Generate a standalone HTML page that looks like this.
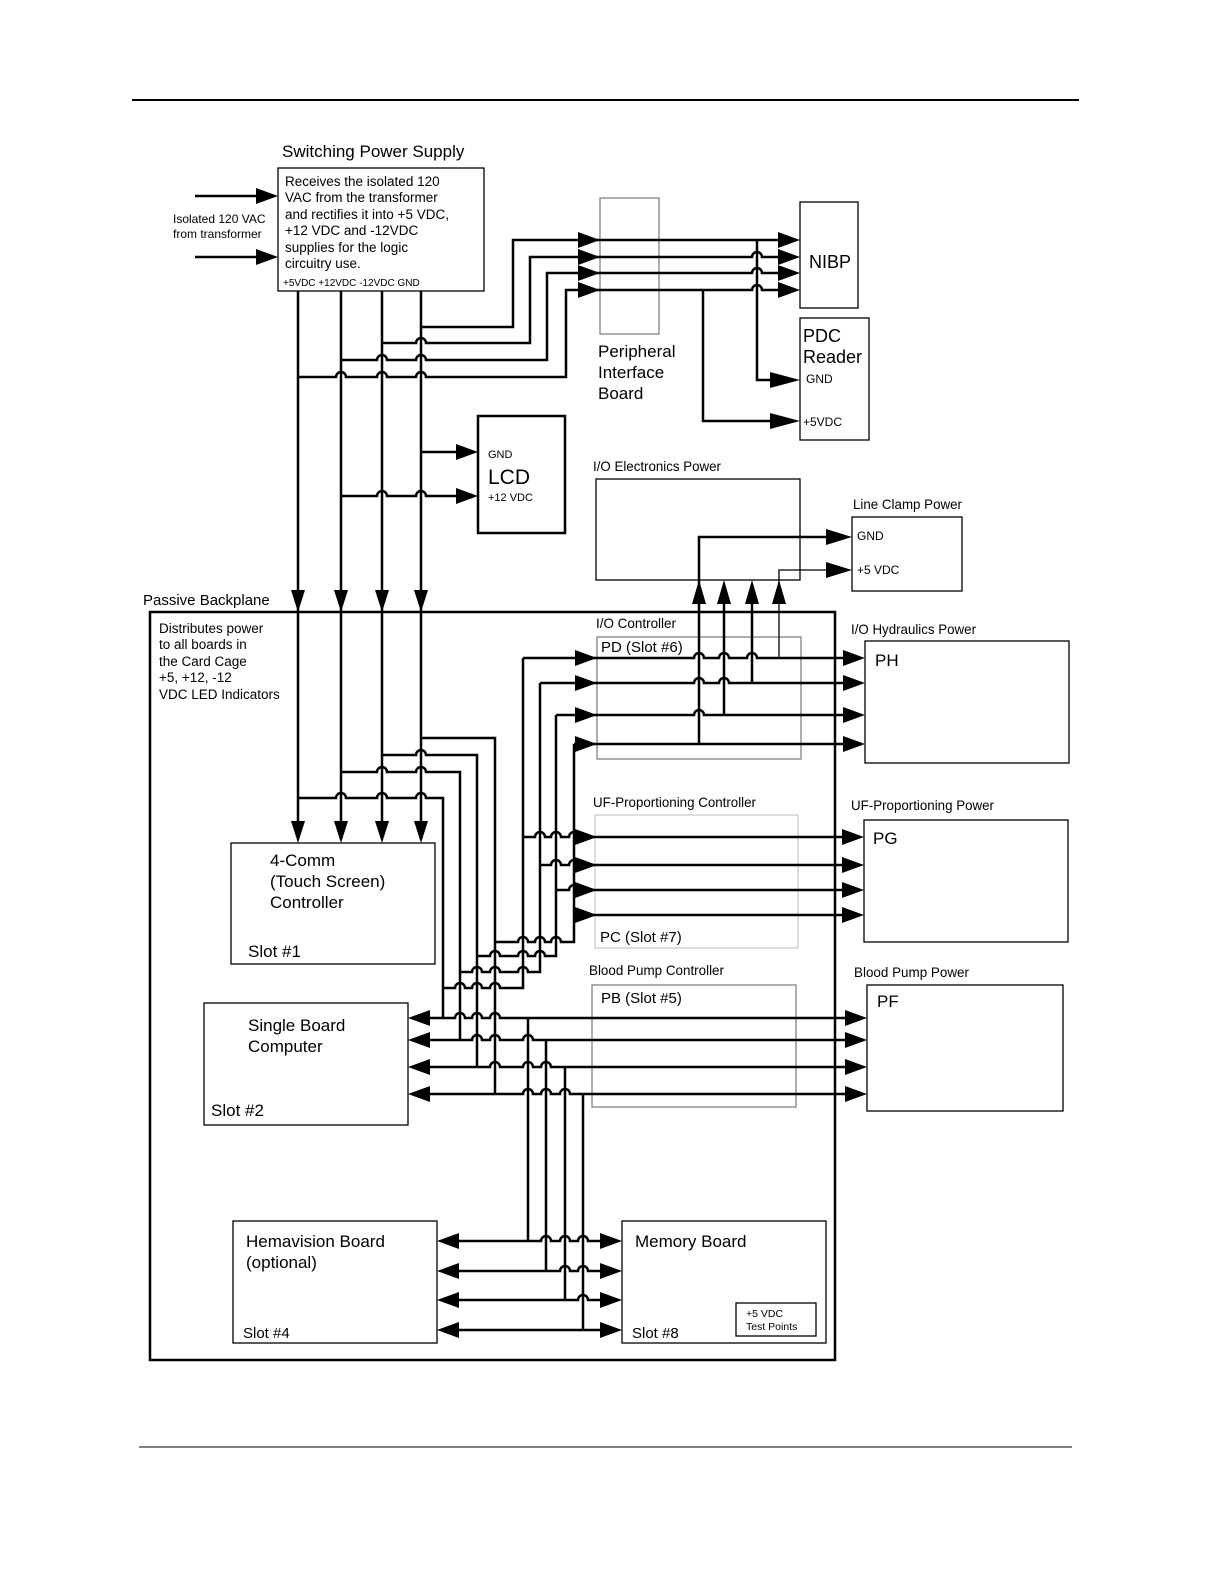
<!DOCTYPE html>
<html><head><meta charset="utf-8"><style>
html,body{margin:0;padding:0;background:#fff}
svg{display:block}
text{font-family:"Liberation Sans",sans-serif;fill:#000}
</style></head><body>
<svg width="1224" height="1584" viewBox="0 0 1224 1584" xmlns="http://www.w3.org/2000/svg">
<line x1="132" y1="100" x2="1079" y2="100" stroke="#000" stroke-width="2"/>
<line x1="139" y1="1447" x2="1072" y2="1447" stroke="#000" stroke-width="1"/>

<!-- boxes -->
<g fill="none" stroke="#000" stroke-width="1.3">
<rect x="278" y="168" width="206" height="123"/>
<rect x="800" y="202" width="58" height="106"/>
<rect x="800" y="318" width="69" height="122"/>
<rect x="596" y="479" width="204" height="101"/>
<rect x="852" y="517" width="110" height="74"/>
<rect x="865" y="641" width="204" height="122"/>
<rect x="864" y="820" width="204" height="122"/>
<rect x="867" y="985" width="196" height="126"/>
<rect x="231" y="843" width="204" height="121"/>
<rect x="204" y="1003" width="204" height="122"/>
<rect x="233" y="1221" width="204" height="122"/>
<rect x="622" y="1221" width="204" height="122"/>
<rect x="736" y="1303" width="80" height="33"/>
</g>
<g fill="none" stroke="#777" stroke-width="1.2">
<rect x="600" y="198" width="59" height="136"/>
<rect x="597" y="637" width="204" height="122"/>
<rect x="592" y="985" width="204" height="122"/>
</g>
<rect x="595" y="815" width="203" height="133" fill="none" stroke="#bbb" stroke-width="1"/>
<rect x="478" y="416" width="87" height="117" fill="none" stroke="#000" stroke-width="2.5"/>
<rect x="150" y="612" width="685" height="748" fill="none" stroke="#000" stroke-width="2.5"/>

<!-- connectors -->
<g fill="none" stroke="#000" stroke-width="2.5">
<line x1="195" y1="196" x2="270" y2="196"/>
<line x1="195" y1="257" x2="270" y2="257"/>
<!-- power verticals -->
<line x1="298" y1="291" x2="298" y2="835"/>
<line x1="341" y1="291" x2="341" y2="835"/>
<line x1="382" y1="291" x2="382" y2="835"/>
<line x1="421" y1="291" x2="421" y2="835"/>
<!-- top taps -->
<path d="M421 327 H513 V240 H790"/>
<path d="M382 343 H416 a5 5 0 0 1 10 0 H530 V257 H752 a5 5 0 0 1 10 0 H790"/>
<path d="M341 360 H377 a5 5 0 0 1 10 0 H416 a5 5 0 0 1 10 0 H547 V273 H752 a5 5 0 0 1 10 0 H790"/>
<path d="M298 377 H336 a5 5 0 0 1 10 0 H377 a5 5 0 0 1 10 0 H416 a5 5 0 0 1 10 0 H566 V290 H752 a5 5 0 0 1 10 0 H790"/>
<path d="M757 240 V380 H790"/>
<path d="M703 290 V421 H790"/>
<path d="M421 452 H470"/>
<path d="M341 496 H377 a5 5 0 0 1 10 0 H416 a5 5 0 0 1 10 0 H470"/>
<!-- backplane branches -->
<path d="M421 738 H495 V1094"/>
<path d="M382 755 H416 a5 5 0 0 1 10 0 H477 V1067"/>
<path d="M341 772 H377 a5 5 0 0 1 10 0 H416 a5 5 0 0 1 10 0 H460 V1040"/>
<path d="M298 798 H336 a5 5 0 0 1 10 0 H377 a5 5 0 0 1 10 0 H416 a5 5 0 0 1 10 0 H443 V1018"/>
<!-- distribution -->
<path d="M495 942 H518 a5 5 0 0 1 10 0 H535 a5 5 0 0 1 10 0 H551 a5 5 0 0 1 10 0 H574 V744"/>
<path d="M477 956 H490 a5 5 0 0 1 10 0 H518 a5 5 0 0 1 10 0 H535 a5 5 0 0 1 10 0 H556 V715"/>
<path d="M460 972 H472 a5 5 0 0 1 10 0 H490 a5 5 0 0 1 10 0 H518 a5 5 0 0 1 10 0 H540 V683"/>
<path d="M443 988 H455 a5 5 0 0 1 10 0 H472 a5 5 0 0 1 10 0 H490 a5 5 0 0 1 10 0 H523 V658"/>
<!-- PD lines -->
<path d="M523 658 H694 a5 5 0 0 1 10 0 H719 a5 5 0 0 1 10 0 H747 a5 5 0 0 1 10 0 H857"/>
<path d="M540 683 H694 a5 5 0 0 1 10 0 H719 a5 5 0 0 1 10 0 H857"/>
<path d="M556 715 H694 a5 5 0 0 1 10 0 H857"/>
<path d="M574 744 H857"/>
<path d="M699 744 V537 H844"/>
<path d="M724 715 V588"/>
<path d="M752 683 V588"/>
<!-- UF lines -->
<path d="M523 837 H535 a5 5 0 0 1 10 0 H551 a5 5 0 0 1 10 0 H569 a5 5 0 0 1 10 0 H856"/>
<path d="M540 865 H551 a5 5 0 0 1 10 0 H569 a5 5 0 0 1 10 0 H856"/>
<path d="M556 890 H569 a5 5 0 0 1 10 0 H856"/>
<path d="M574 915 H856"/>
<!-- SBC lines -->
<path d="M416 1018 H455 a5 5 0 0 1 10 0 H472 a5 5 0 0 1 10 0 H490 a5 5 0 0 1 10 0 H859"/>
<path d="M416 1040 H472 a5 5 0 0 1 10 0 H490 a5 5 0 0 1 10 0 H523 a5 5 0 0 1 10 0 H859"/>
<path d="M416 1067 H490 a5 5 0 0 1 10 0 H523 a5 5 0 0 1 10 0 H541 a5 5 0 0 1 10 0 H859"/>
<path d="M416 1094 H523 a5 5 0 0 1 10 0 H541 a5 5 0 0 1 10 0 H560 a5 5 0 0 1 10 0 H859"/>
<path d="M528 1018 V1241"/>
<path d="M546 1040 V1271"/>
<path d="M565 1067 V1300"/>
<path d="M583 1094 V1330"/>
<!-- bottom lines -->
<path d="M445 1241 H541 a5 5 0 0 1 10 0 H560 a5 5 0 0 1 10 0 H578 a5 5 0 0 1 10 0 H614"/>
<path d="M445 1271 H560 a5 5 0 0 1 10 0 H578 a5 5 0 0 1 10 0 H614"/>
<path d="M445 1300 H578 a5 5 0 0 1 10 0 H614"/>
<path d="M445 1330 H614"/>
</g>
<path d="M779 658 V570 H844" fill="none" stroke="#000" stroke-width="1.3"/>

<!-- arrowheads -->
<g fill="#000">
<!-- right arrows: tip x,y -->
<polygon points="256,188 278,196 256,204"/>
<polygon points="256,249 278,257 256,265"/>
<polygon points="578,232 600,240 578,248"/><polygon points="778,232 800,240 778,248"/>
<polygon points="578,249 600,257 578,265"/><polygon points="778,249 800,257 778,265"/>
<polygon points="578,265 600,273 578,281"/><polygon points="778,265 800,273 778,281"/>
<polygon points="578,282 600,290 578,298"/><polygon points="778,282 800,290 778,298"/>
<polygon points="770,372 800,380 770,388"/>
<polygon points="770,413 800,421 770,429"/>
<polygon points="456,444 478,452 456,460"/>
<polygon points="456,488 478,496 456,504"/>
<polygon points="826,529 852,537 826,545"/>
<polygon points="826,562 852,570 826,578"/>
<polygon points="575,650 597,658 575,666"/><polygon points="843,650 865,658 843,666"/>
<polygon points="575,675 597,683 575,691"/><polygon points="843,675 865,683 843,691"/>
<polygon points="575,707 597,715 575,723"/><polygon points="843,707 865,715 843,723"/>
<polygon points="575,736 597,744 575,752"/><polygon points="843,736 865,744 843,752"/>
<polygon points="575,829 597,837 575,845"/><polygon points="842,829 864,837 842,845"/>
<polygon points="575,857 597,865 575,873"/><polygon points="842,857 864,865 842,873"/>
<polygon points="575,882 597,890 575,898"/><polygon points="842,882 864,890 842,898"/>
<polygon points="575,907 597,915 575,923"/><polygon points="842,907 864,915 842,923"/>
<polygon points="845,1010 867,1018 845,1026"/>
<polygon points="845,1032 867,1040 845,1048"/>
<polygon points="845,1059 867,1067 845,1075"/>
<polygon points="845,1086 867,1094 845,1102"/>
<polygon points="600,1233 622,1241 600,1249"/>
<polygon points="600,1263 622,1271 600,1279"/>
<polygon points="600,1292 622,1300 600,1308"/>
<polygon points="600,1322 622,1330 600,1338"/>
<!-- left arrows -->
<polygon points="430,1010 408,1018 430,1026"/>
<polygon points="430,1032 408,1040 430,1048"/>
<polygon points="430,1059 408,1067 430,1075"/>
<polygon points="430,1086 408,1094 430,1102"/>
<polygon points="459,1233 437,1241 459,1249"/>
<polygon points="459,1263 437,1271 459,1279"/>
<polygon points="459,1292 437,1300 459,1308"/>
<polygon points="459,1322 437,1330 459,1338"/>
<!-- down arrows -->
<polygon points="291,590 298,612 305,590"/><polygon points="334,590 341,612 348,590"/>
<polygon points="375,590 382,612 389,590"/><polygon points="414,590 421,612 428,590"/>
<polygon points="291,821 298,843 305,821"/><polygon points="334,821 341,843 348,821"/>
<polygon points="375,821 382,843 389,821"/><polygon points="414,821 421,843 428,821"/>
<!-- up arrows -->
<polygon points="692,604 699,580 706,604"/><polygon points="717,604 724,580 731,604"/>
<polygon points="745,604 752,580 759,604"/><polygon points="772,604 779,580 786,604"/>
</g>

<!-- text -->
<text x="282" y="157" font-size="17">Switching Power Supply</text>
<g font-size="13.5">
<text x="285" y="186">Receives the isolated 120</text>
<text x="285" y="202">VAC from the transformer</text>
<text x="285" y="219">and rectifies it into +5 VDC,</text>
<text x="285" y="235">+12 VDC and -12VDC</text>
<text x="285" y="252">supplies for the logic</text>
<text x="285" y="268">circuitry use.</text>
</g>
<text x="283" y="286" font-size="10">+5VDC  +12VDC  -12VDC  GND</text>
<text x="173" y="223" font-size="12">Isolated 120 VAC</text>
<text x="173" y="238" font-size="12">from transformer</text>
<text x="809" y="268" font-size="18">NIBP</text>
<text x="803" y="342" font-size="18">PDC</text>
<text x="803" y="363" font-size="18">Reader</text>
<text x="806" y="383" font-size="12">GND</text>
<text x="803" y="426" font-size="12">+5VDC</text>
<text x="598" y="357" font-size="17">Peripheral</text>
<text x="598" y="378" font-size="17">Interface</text>
<text x="598" y="399" font-size="17">Board</text>
<text x="488" y="458" font-size="11">GND</text>
<text x="488" y="484" font-size="21">LCD</text>
<text x="488" y="501" font-size="11">+12 VDC</text>
<text x="593" y="471" font-size="14" textLength="128" lengthAdjust="spacingAndGlyphs">I/O Electronics Power</text>
<text x="853" y="509" font-size="14" textLength="109" lengthAdjust="spacingAndGlyphs">Line Clamp Power</text>
<text x="857" y="540" font-size="12">GND</text>
<text x="857" y="574" font-size="12">+5 VDC</text>
<text x="143" y="605" font-size="15">Passive Backplane</text>
<g font-size="13.5">
<text x="159" y="633">Distributes power</text>
<text x="159" y="649">to all boards in</text>
<text x="159" y="666">the Card Cage</text>
<text x="159" y="682">+5, +12, -12</text>
<text x="159" y="699">VDC LED Indicators</text>
</g>
<text x="596" y="628" font-size="14" textLength="80" lengthAdjust="spacingAndGlyphs">I/O Controller</text>
<text x="601" y="652" font-size="15">PD (Slot #6)</text>
<text x="851" y="634" font-size="14" textLength="125" lengthAdjust="spacingAndGlyphs">I/O Hydraulics Power</text>
<text x="875" y="666" font-size="17">PH</text>
<text x="593" y="807" font-size="14" textLength="163" lengthAdjust="spacingAndGlyphs">UF-Proportioning Controller</text>
<text x="600" y="942" font-size="15">PC (Slot #7)</text>
<text x="851" y="810" font-size="14" textLength="143" lengthAdjust="spacingAndGlyphs">UF-Proportioning Power</text>
<text x="873" y="844" font-size="17">PG</text>
<text x="589" y="975" font-size="14" textLength="135" lengthAdjust="spacingAndGlyphs">Blood Pump Controller</text>
<text x="601" y="1003" font-size="15">PB (Slot #5)</text>
<text x="854" y="977" font-size="14" textLength="115" lengthAdjust="spacingAndGlyphs">Blood Pump Power</text>
<text x="877" y="1007" font-size="17">PF</text>
<text x="270" y="866" font-size="17">4-Comm</text>
<text x="270" y="887" font-size="17">(Touch Screen)</text>
<text x="270" y="908" font-size="17">Controller</text>
<text x="248" y="957" font-size="17">Slot #1</text>
<text x="248" y="1031" font-size="17">Single Board</text>
<text x="248" y="1052" font-size="17">Computer</text>
<text x="211" y="1116" font-size="17">Slot #2</text>
<text x="246" y="1247" font-size="17">Hemavision Board</text>
<text x="246" y="1268" font-size="17">(optional)</text>
<text x="243" y="1338" font-size="15">Slot #4</text>
<text x="635" y="1247" font-size="17">Memory Board</text>
<text x="632" y="1338" font-size="15">Slot #8</text>
<text x="746" y="1317" font-size="10.5">+5 VDC</text>
<text x="746" y="1330" font-size="10.5">Test Points</text>
</svg>
</body></html>
